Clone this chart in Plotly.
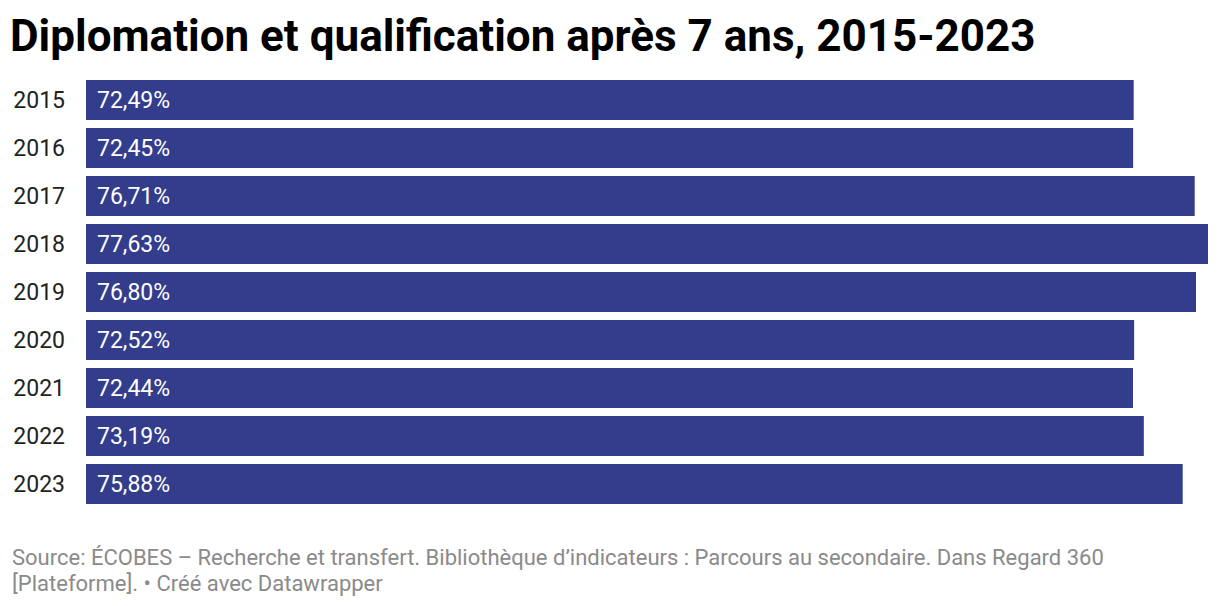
import plotly.graph_objects as go

years = ["2015", "2016", "2017", "2018", "2019", "2020", "2021", "2022", "2023"]
values = [72.49, 72.45, 76.71, 77.63, 76.80, 72.52, 72.44, 73.19, 75.88]
labels = [f"{v:.2f}".replace(".", ",") + "%" for v in values]

title = "Diplomation et qualification après 7 ans, 2015-2023"
source_lines = [
    "Source: ÉCOBES – Recherche et transfert. Bibliothèque d’indicateurs : Parcours au secondaire. Dans Regard 360",
    "[Plateforme]. • Créé avec Datawrapper",
]

# the page body has an 8px default margin; the figure is offset accordingly
OFF = 8
W, H = 1220 - OFF, 606 - OFF
ml, mr, mt, mb = 86 - OFF, 12, 76 - OFF, 98
pw, ph = W - ml - mr, H - mt - mb


def px_x(x_win):
    return (x_win - OFF - ml) / pw


def px_y(y_win):
    return (H - mb - (y_win - OFF)) / ph


fig = go.Figure(go.Bar(
    x=values, y=years, orientation="h",
    marker=dict(color="#333d8c", line=dict(width=0)),
    hoverinfo="skip",
))

annotations = []
for i, lab in enumerate(labels):
    annotations.append(dict(
        x=0, y=i, xref="x", yref="y", text=lab, showarrow=False,
        xanchor="left", yanchor="middle", xshift=9,
        font=dict(family="Roboto", size=23, color="white"),
    ))

for i, line in enumerate(source_lines):
    annotations.append(dict(
        text=line, xref="paper", yref="paper",
        x=px_x(10), y=px_y(557 + 26 * i),
        xanchor="left", yanchor="middle", align="left", showarrow=False,
        font=dict(family="Roboto", size=22, color="#8a8a8a"),
    ))

fig.update_layout(
    width=W, height=H,
    margin=dict(l=ml, r=mr, t=mt, b=mb, autoexpand=False),
    paper_bgcolor="white", plot_bgcolor="white",
    bargap=8 / 48,
    showlegend=False,
    title=dict(text=f"<b>{title}</b>", x=(10 - OFF) / W, xref="container", xanchor="left",
               y=1 - (36 - OFF) / H, yref="container", yanchor="middle",
               font=dict(family="Roboto", size=44, color="#000000")),
    xaxis=dict(range=[0, max(values)], visible=False, fixedrange=True, automargin=False),
    yaxis=dict(type="category", categoryorder="array", categoryarray=years,
               range=[len(years) - 0.5, -0.5], autorange=False,
               showgrid=False, zeroline=False, showline=False,
               automargin=False, fixedrange=True,
               ticks="", ticklabelstandoff=20,
               tickfont=dict(family="Roboto", size=23, color="#222222")),
    annotations=annotations,
)

fig.write_html("out.html")
